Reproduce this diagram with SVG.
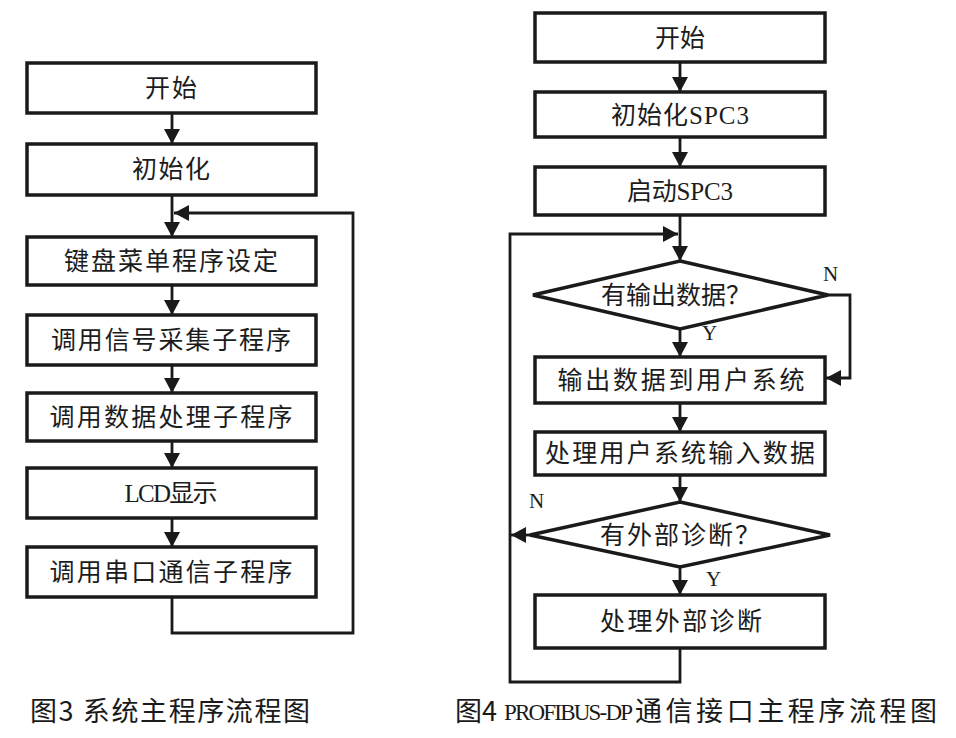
<svg xmlns="http://www.w3.org/2000/svg" width="956" height="738" viewBox="0 0 956 738">
<style>
.box{fill:#fff;stroke:#1a1a1a;stroke-width:3.5}
.t{font-family:"Liberation Serif","Noto Sans CJK SC",serif;font-size:25px;fill:#1c1c1c;text-anchor:middle}
.lab{font-family:"Liberation Serif","Noto Sans CJK SC",serif;font-size:21px;fill:#1c1c1c}
.cap{font-family:"Noto Sans CJK SC",sans-serif;font-size:27px;fill:#1a1a1a}
.lat{font-family:"Liberation Serif","Noto Sans CJK SC",serif;font-size:23px;fill:#1a1a1a}
.c{fill:none;stroke:#1a1a1a;stroke-width:2.8;marker-end:url(#ah)}
</style>
<defs>
<marker id="ah" markerUnits="userSpaceOnUse" markerWidth="15" markerHeight="16" refX="15" refY="8" orient="auto">
<path d="M0,0 L15,8 L0,16 Z" fill="#1a1a1a"/>
</marker>
</defs>
<rect width="956" height="738" fill="#fff"/>

<g id="connectors">
<path class="c" d="M172,113 V144"/>
<path class="c" d="M172,195 V237"/>
<path class="c" d="M172,285 V315"/>
<path class="c" d="M172,365 V393"/>
<path class="c" d="M172,441 V468"/>
<path class="c" d="M172,518 V547"/>
<path class="c" d="M172,597 V633 H353 V213 H174"/>

<path class="c" d="M680,62 V92"/>
<path class="c" d="M680,137 V167"/>
<path class="c" d="M680,215 V261"/>
<path class="c" d="M680,648 V682 H510 V234 H678"/>
<path class="c" d="M680,329 V357"/>
<path class="c" d="M828,295 H850 V378 H826"/>
<path class="c" d="M680,403 V432"/>
<path class="c" d="M680,475 V502"/>
<path class="c" d="M680,567 V595"/>
<path class="c" d="M530,535 H511"/>
<text class="lab" x="823" y="281">N</text>
<text class="lab" x="702" y="340">Y</text>
<text class="lab" x="529" y="508">N</text>
<text class="lab" x="706" y="586">Y</text>
</g>

<g id="L1"><rect class="box" x="27" y="63" width="289" height="50"/><text class="t" x="171" y="97" textLength="52">开始</text></g>
<g id="L2"><rect class="box" x="27" y="144" width="289" height="51"/><text class="t" x="171" y="178" textLength="78">初始化</text></g>
<g id="L3"><rect class="box" x="27" y="237" width="289" height="48"/><text class="t" x="171" y="270" textLength="214">键盘菜单程序设定</text></g>
<g id="L4"><rect class="box" x="27" y="315" width="289" height="50"/><text class="t" x="171" y="349" textLength="240">调用信号采集子程序</text></g>
<g id="L5"><rect class="box" x="27" y="393" width="289" height="48"/><text class="t" x="171" y="426" textLength="243">调用数据处理子程序</text></g>
<g id="L6"><rect class="box" x="27" y="468" width="289" height="50"/><text class="t" x="171" y="502" textLength="93">LCD显示</text></g>
<g id="L7"><rect class="box" x="27" y="547" width="289" height="50"/><text class="t" x="171" y="581" textLength="243">调用串口通信子程序</text></g>

<g id="R1"><rect class="box" x="535" y="13" width="290" height="49"/><text class="t" x="680" y="47" textLength="50">开始</text></g>
<g id="R2"><rect class="box" x="535" y="92" width="290" height="45"/><text class="t" x="680" y="124" textLength="138">初始化SPC3</text></g>
<g id="R3"><rect class="box" x="535" y="167" width="290" height="48"/><text class="t" x="680" y="200" textLength="106">启动SPC3</text></g>
<g id="R4"><polygon class="box" points="680,261 828,295 680,329 533,295"/><text class="t" x="676" y="304" textLength="150">有输出数据？</text></g>
<g id="R5"><rect class="box" x="535" y="357" width="290" height="46"/><text class="t" x="681" y="389" textLength="247">输出数据到用户系统</text></g>
<g id="R6"><rect class="box" x="535" y="432" width="290" height="43"/><text class="t" x="680" y="462" textLength="270">处理用户系统输入数据</text></g>
<g id="R7"><polygon class="box" points="680,502 830,535 680,567 530,535"/><text class="t" x="680" y="544" textLength="160">有外部诊断？</text></g>
<g id="R8"><rect class="box" x="535" y="595" width="290" height="53"/><text class="t" x="681" y="630" textLength="162">处理外部诊断</text></g>

<g id="caption3"><text class="cap" x="30" y="721" textLength="280">图3 系统主程序流程图</text></g>
<g id="caption4">
<text class="cap" x="455" y="721">图4</text>
<text class="lat" x="504" y="720" textLength="129">PROFIBUS-DP</text>
<text class="cap" x="635" y="721" textLength="302">通信接口主程序流程图</text>
</g>
</svg>
